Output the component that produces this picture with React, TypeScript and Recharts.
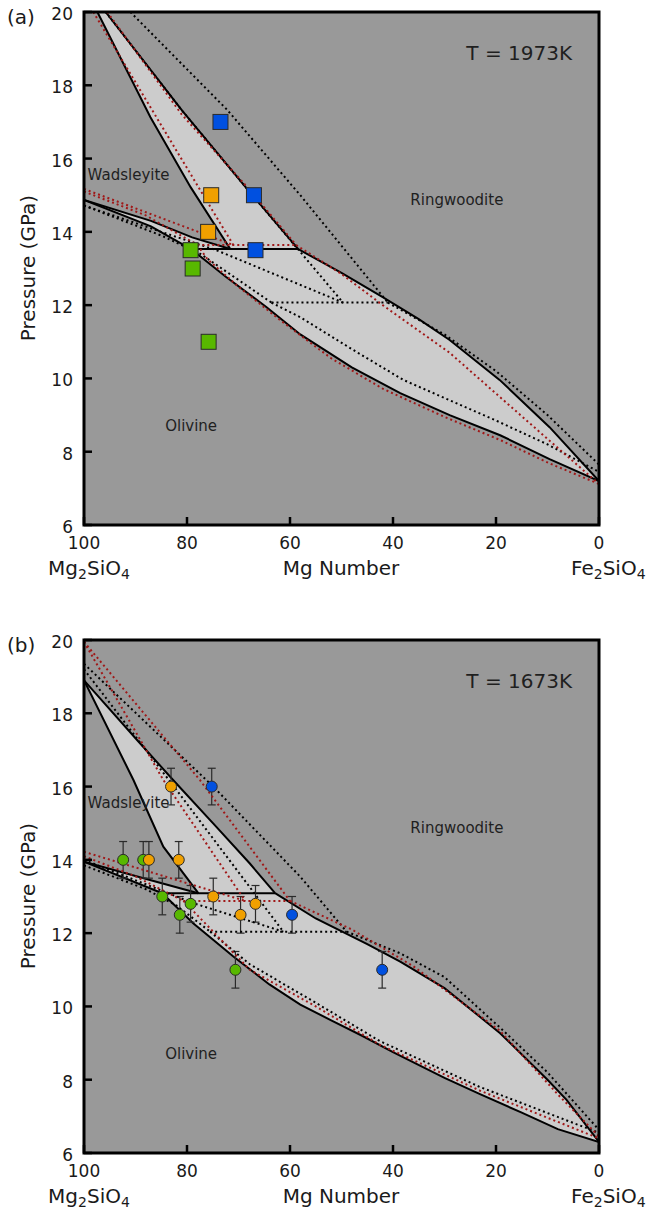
import React from "react";
import {
  ComposedChart,
  Line,
  Scatter,
  XAxis,
  YAxis,
  CartesianGrid,
  ReferenceArea,
  ReferenceDot,
  ErrorBar,
} from "recharts";

type Pt = { x: number; p: number; err?: number };
const pts = (rows: number[][]): Pt[] => rows.map(([x, p]) => ({ x, p }));

const FONT = "'DejaVu Sans', sans-serif";
const BG = "#999999";
const TWO_PHASE = "#cccccc";
const RED = "#a01818";

const mgTicks = [100, 80, 60, 40, 20, 0];
const pTicks = [6, 8, 10, 12, 14, 16, 18, 20];
const pressureErr = 0.5;

// ---- (a) T = 1973K : solid boundaries
const aWadRingWad = pts([[97.4, 20], [87.1, 17.13], [79.3, 15.22], [71.6, 13.53]]);
const aWadRingRing = pts([[95.8, 20], [80.9, 17.3], [68.5, 15.2], [58.4, 13.53]]);
const aOlWadWad = pts([[100, 14.87], [87, 14.3], [79, 13.85], [71.6, 13.53]]);
const aOlWadOl = pts([[100, 14.87], [87, 14.15], [79.2, 13.53]]);
const aInvariant = pts([[79.2, 13.53], [58.4, 13.53]]);
const aOlRingRing = pts([[58.4, 13.53], [50, 12.88], [42, 12.22], [35, 11.62], [29, 11.05], [19.3, 9.96], [9.6, 8.67], [0, 7.2]]);
const aOlRingOl = pts([[79.2, 13.53], [72.4, 12.77], [64.6, 11.95], [58, 11.2], [48, 10.3], [38.6, 9.6], [29, 9.0], [19.2, 8.45], [9.6, 7.8], [0, 7.2]]);

// (a) black dotted model
const aAltWadRingWad = pts([[95.8, 20], [80.9, 17.3], [68.5, 15.2], [49.7, 12.07]]);
const aAltWadRingRing = pts([[91, 20], [72.2, 17.33], [58, 15], [41, 12.07]]);
const aAltOlWadWad = pts([[100, 14.72], [85, 14.0], [74.3, 13.5], [49.7, 12.07]]);
const aAltOlWadOl = pts([[100, 14.72], [85, 13.9], [77.4, 13.4], [63.6, 12.07]]);
const aAltInvariant = pts([[63.6, 12.07], [41, 12.07]]);
const aAltOlRingRing = pts([[41, 12.07], [30, 11.2], [20, 10.2], [10, 9.0], [0, 7.65]]);
const aAltOlRingOl = pts([[63.6, 12.07], [58, 11.67], [48, 10.8], [38, 9.96], [20, 8.85], [10, 8.2], [0, 7.45]]);

// (a) red dotted model
const aRedWadRingWad = pts([[98.2, 20], [82.1, 16.23], [71, 13.64]]);
const aRedWadRingRing = pts([[95.5, 20], [81, 17.2], [68.5, 15.25], [58.8, 13.64]]);
const aRedOlWadWad = pts([[100, 15.17], [71, 13.64]]);
const aRedOlWadOl = pts([[100, 15.1], [88, 14.45], [78, 13.64]]);
const aRedInvariant = pts([[78, 13.64], [58.8, 13.64]]);
const aRedOlRingRing = pts([[58.8, 13.64], [50, 12.85], [42, 12.0], [29, 10.7], [19.3, 9.5], [9.6, 8.3], [0, 7.12]]);
const aRedOlRingOl = pts([[78, 13.64], [76, 13.25], [70, 12.5], [62, 11.6], [52, 10.55], [42, 9.72], [30, 8.95], [19.2, 8.32], [9.6, 7.68], [0, 7.12]]);

// (a) experiments
const aGreen = pts([[79.3, 13.5], [78.9, 13.0], [75.8, 11.0]]);
const aOrange = pts([[75.3, 15.0], [75.9, 14.0]]);
const aBlue = pts([[73.5, 17.0], [67.0, 15.0], [66.7, 13.5]]);

// ---- (b) T = 1673K : solid boundaries
const bWadRingWad = pts([[100, 18.9], [90.4, 16.18], [84.6, 14.36], [77.8, 13.09]]);
const bWadRingRing = pts([[100, 18.9], [89.7, 17.27], [82.7, 16.18], [74.3, 14.9], [67.8, 13.9], [62.9, 13.09]]);
const bOlWadWad = pts([[100, 13.95], [87.2, 13.45], [77.8, 13.09]]);
const bOlWadOl = pts([[100, 13.95], [84.8, 13.09]]);
const bInvariant = pts([[84.8, 13.09], [62.9, 13.09]]);
const bOlRingRing = pts([[62.9, 13.09], [55, 12.4], [45, 11.7], [38.6, 11.22], [30, 10.5], [19.2, 9.27], [10, 8.0], [6.3, 7.45], [0, 6.3]]);
const bOlRingOl = pts([[84.8, 13.09], [78.8, 12.27], [71, 11.36], [64, 10.6], [58, 10.05], [52, 9.62], [46, 9.2], [40, 8.75], [30, 8.05], [23, 7.6], [15, 7.1], [8, 6.65], [0, 6.3]]);

// (b) black dotted model
const bAltWadRingWad = pts([[100, 19.2], [82, 15.9], [61.3, 12.04]]);
const bAltWadRingRing = pts([[100, 19.35], [74.9, 16.0], [58, 13.54], [49, 12.04]]);
const bAltOlWadWad = pts([[100, 14.0], [78.8, 12.82], [61.3, 12.04]]);
const bAltOlWadOl = pts([[100, 13.85], [88, 13.2], [82, 12.75], [75.5, 12.04]]);
const bAltInvariant = pts([[75.5, 12.04], [49, 12.04]]);
const bAltOlRingRing = pts([[49, 12.04], [38.6, 11.45], [30, 10.8], [19.2, 9.42], [10, 8.2], [0, 6.63]]);
const bAltOlRingOl = pts([[75.5, 12.04], [67.8, 11.15], [55, 10.1], [42.5, 9.05], [23.1, 7.8], [0, 6.55]]);

// (b) red dotted model
const bRedWadRingWad = pts([[100, 19.95], [84.6, 16.18], [68.7, 12.88]]);
const bRedWadRingRing = pts([[100, 19.95], [77.5, 16.18], [60, 12.88]]);
const bRedOlWadWad = pts([[100, 14.22], [68.7, 12.88]]);
const bRedOlWadOl = pts([[100, 14.1], [90, 13.55], [80.7, 12.88]]);
const bRedInvariant = pts([[80.7, 12.88], [60, 12.88]]);
const bRedOlRingRing = pts([[60, 12.88], [48, 12.1], [36.1, 11.1], [19.2, 9.33], [8, 7.6], [0, 6.45]]);
const bRedOlRingOl = pts([[80.7, 12.88], [76, 12.2], [67.8, 11.0], [55, 10.0], [42.5, 8.95], [23.1, 7.7], [0, 6.4]]);

// (b) experiments (pressure +/- error)
const bGreen = pts([[92.4, 14], [88.5, 14], [84.8, 13], [79.3, 12.8], [81.4, 12.5], [70.6, 11]]);
const bOrange = pts([[87.4, 14], [81.6, 14], [83.1, 16], [74.9, 13], [69.6, 12.5], [66.7, 12.8]]);
const bBlue = pts([[75.2, 16], [59.6, 12.5], [42.1, 11]]);

const withErr = (d: Pt[]) => d.map((o) => ({ ...o, err: pressureErr }));
const region = (a: Pt[], b: Pt[]) => [...a, ...[...b].reverse()];

type Marker = { data: Pt[]; color: string; kind: "square" | "circle" };
type PanelCfg = {
  fills: Pt[][];
  solid: Pt[][];
  alt: Pt[][];
  red: Pt[][];
  markers: Marker[];
  temp: string;
};

const panelA: PanelCfg = {
  fills: [region(aWadRingWad, aWadRingRing), region(aOlWadWad, aOlWadOl), region(aOlRingRing, aOlRingOl)],
  solid: [aWadRingWad, aWadRingRing, aOlWadWad, aOlWadOl, aInvariant, aOlRingRing, aOlRingOl],
  alt: [aAltWadRingWad, aAltWadRingRing, aAltOlWadWad, aAltOlWadOl, aAltInvariant, aAltOlRingRing, aAltOlRingOl],
  red: [aRedWadRingWad, aRedWadRingRing, aRedOlWadWad, aRedOlWadOl, aRedInvariant, aRedOlRingRing, aRedOlRingOl],
  markers: [
    { data: aGreen, color: "#58b800", kind: "square" },
    { data: aOrange, color: "#f0a000", kind: "square" },
    { data: aBlue, color: "#0050e0", kind: "square" },
  ],
  temp: "T = 1973K",
};

const panelB: PanelCfg = {
  fills: [region(bWadRingWad, bWadRingRing), region(bOlWadWad, bOlWadOl), region(bOlRingRing, bOlRingOl)],
  solid: [bWadRingWad, bWadRingRing, bOlWadWad, bOlWadOl, bInvariant, bOlRingRing, bOlRingOl],
  alt: [bAltWadRingWad, bAltWadRingRing, bAltOlWadWad, bAltOlWadOl, bAltInvariant, bAltOlRingRing, bAltOlRingOl],
  red: [bRedWadRingWad, bRedWadRingRing, bRedOlWadWad, bRedOlWadOl, bRedInvariant, bRedOlRingRing, bRedOlRingOl],
  markers: [
    { data: withErr(bGreen), color: "#58b800", kind: "circle" },
    { data: withErr(bOrange), color: "#f0a000", kind: "circle" },
    { data: withErr(bBlue), color: "#0050e0", kind: "circle" },
  ],
  temp: "T = 1673K",
};

const renderNothing = () => <g />;

const squareShape = (color: string) => (props: any) => (
  <rect x={props.cx - 7.5} y={props.cy - 7.5} width={15} height={15} fill={color} stroke="#2a2a2a" strokeWidth={1} />
);
const circleShape = (color: string) => (props: any) => (
  <circle cx={props.cx} cy={props.cy} r={5.5} fill={color} stroke="#2a2a2a" strokeWidth={1} />
);
const textShape = (text: string, anchor: "start" | "middle", size: number) => (props: any) => (
  <text x={props.cx} y={props.cy} textAnchor={anchor} dominantBaseline="central" fontSize={size} fontFamily={FONT} fill="#1f1f1f">
    {text}
  </text>
);

const tickStyle = { fill: "#1a1a1a", fontSize: 17, fontFamily: FONT };
const tickLineStyle = { stroke: "#000", strokeWidth: 2.5 };

function PhasePanel({ cfg }: { cfg: PanelCfg }) {
  return (
    <ComposedChart width={646} height={581} margin={{ top: 12, right: 47, bottom: 26, left: 24 }}>
      <CartesianGrid fill={BG} fillOpacity={1} horizontal={false} vertical={false} />
      <XAxis
        type="number"
        dataKey="x"
        domain={[0, 100]}
        reversed
        ticks={mgTicks}
        interval={0}
        allowDataOverflow
        axisLine={false}
        tickSize={-8}
        tickMargin={20}
        tickLine={tickLineStyle}
        tick={tickStyle}
        height={30}
      />
      <YAxis
        type="number"
        domain={[6, 20]}
        ticks={pTicks}
        interval={0}
        allowDataOverflow
        axisLine={false}
        tickSize={-8}
        tickMargin={19}
        tickLine={tickLineStyle}
        tick={{ ...tickStyle, dy: 2 }}
        width={60}
      />
      {cfg.fills.map((poly, i) => (
        <Scatter
          key={`fill-${i}`}
          data={poly}
          dataKey="p"
          line={{ fill: TWO_PHASE, stroke: "none" }}
          lineJointType="linear"
          shape={renderNothing}
          isAnimationActive={false}
          zIndex={50}
        />
      ))}
      {cfg.solid.map((d, i) => (
        <Line key={`solid-${i}`} data={d} dataKey="p" type="linear" stroke="#000" strokeWidth={2} dot={false} activeDot={false} isAnimationActive={false} zIndex={400} />
      ))}
      {cfg.alt.map((d, i) => (
        <Line key={`alt-${i}`} data={d} dataKey="p" type="linear" stroke="#000" strokeWidth={2} strokeDasharray="2 3" dot={false} activeDot={false} isAnimationActive={false} zIndex={410} />
      ))}
      {cfg.red.map((d, i) => (
        <Line key={`red-${i}`} data={d} dataKey="p" type="linear" stroke={RED} strokeWidth={2} strokeDasharray="2 3" dot={false} activeDot={false} isAnimationActive={false} zIndex={420} />
      ))}
      {cfg.markers.map((m, i) => (
        <Scatter
          key={`mk-${i}`}
          data={m.data}
          dataKey="p"
          shape={m.kind === "square" ? squareShape(m.color) : circleShape(m.color)}
          isAnimationActive={false}
          zIndex={600 + i}
        >
          {m.kind === "circle" && <ErrorBar dataKey="err" direction="y" width={4} stroke="#2a2a2a" strokeWidth={1.2} />}
        </Scatter>
      ))}
      <ReferenceDot x={99.3} y={15.55} r={0} shape={textShape("Wadsleyite", "start", 15)} zIndex={2000} />
      <ReferenceDot x={27.6} y={14.87} r={0} shape={textShape("Ringwoodite", "middle", 15)} zIndex={2000} />
      <ReferenceDot x={79.2} y={8.7} r={0} shape={textShape("Olivine", "middle", 15)} zIndex={2000} />
      <ReferenceDot x={15.5} y={18.88} r={0} shape={textShape(cfg.temp, "middle", 20)} zIndex={2000} />
      <ReferenceArea x1={0} x2={100} y1={6} y2={20} fill="none" stroke="#000" strokeWidth={3} ifOverflow="visible" zIndex={2100} />
    </ComposedChart>
  );
}

const sub = (t: string) => <span style={{ fontSize: 14, position: "relative", top: 4, lineHeight: "14px" }}>{t}</span>;

function Overlay({ top, letter }: { top: number; letter: string }) {
  const base: React.CSSProperties = { position: "absolute", fontFamily: FONT, color: "#1a1a1a", whiteSpace: "nowrap", lineHeight: "20px" };
  const caption: React.CSSProperties = { ...base, lineHeight: "16px", top: top + 560, fontSize: 20 };
  return (
    <>
      <div style={{ ...base, left: 7, top: top + 7, fontSize: 20 }}>{letter}</div>
      <div style={{ ...base, left: 28, top: top + 268, fontSize: 20, transform: "translate(-50%, -50%) rotate(-90deg)" }}>Pressure (GPa)</div>
      <div style={{ ...caption, left: 89, transform: "translateX(-50%)" }}>
        Mg{sub("2")}SiO{sub("4")}
      </div>
      <div style={{ ...caption, left: 341, transform: "translateX(-50%)" }}>Mg Number</div>
      <div style={{ ...caption, left: 571 }}>
        Fe{sub("2")}SiO{sub("4")}
      </div>
    </>
  );
}

export default function App() {
  return (
    <div style={{ position: "absolute", left: 0, top: 0, width: 646, height: 1209, overflow: "hidden", background: "#fff" }}>
      <div style={{ position: "absolute", left: 0, top: 0 }}>
        <PhasePanel cfg={panelA} />
      </div>
      <div style={{ position: "absolute", left: 0, top: 628 }}>
        <PhasePanel cfg={panelB} />
      </div>
      <Overlay top={0} letter="(a)" />
      <Overlay top={628} letter="(b)" />
    </div>
  );
}
